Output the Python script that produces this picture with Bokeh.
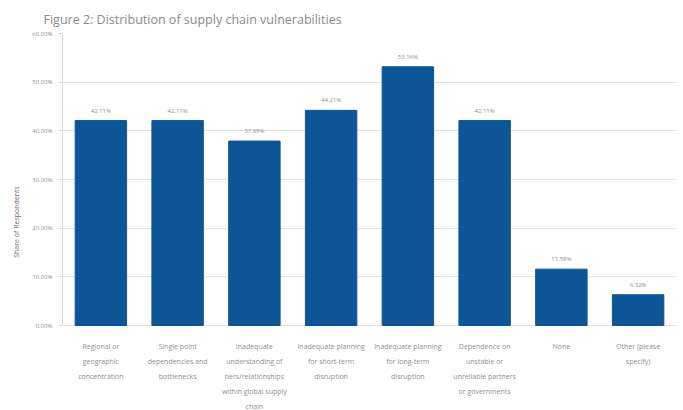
from bokeh.plotting import figure
from bokeh.models import ColumnDataSource, PrintfTickFormatter, FixedTicker, Title, LabelSet, Range1d
from bokeh.core.properties import value
from bokeh.embed import file_html
from bokeh.resources import INLINE

categories = [
    "Regional or geographic concentration",
    "Single point dependencies and bottlenecks",
    "Inadequate understanding of tiers/relationships within global supply chain",
    "Inadequate planning for short-term disruption",
    "Inadequate planning for long-term disruption",
    "Dependence on unstable or unreliable partners or governments",
    "None",
    "Other (please specify)",
]
wrapped_labels = [
    "Regional or\ngeographic\nconcentration",
    "Single point\ndependencies and\nbottlenecks",
    "Inadequate\nunderstanding of\ntiers/relationships\nwithin global supply\nchain",
    "Inadequate planning\nfor short-term\ndisruption",
    "Inadequate planning\nfor long-term\ndisruption",
    "Dependence on\nunstable or\nunreliable partners\nor governments",
    "None",
    "Other (please\nspecify)",
]
values = [42.11, 42.11, 37.89, 44.21, 53.16, 42.11, 11.58, 6.32]
y_ticks = [0, 10, 20, 30, 40, 50, 60]

# layout (pixels)
W, H = 676, 410
TOP, ZERO_Y = 33, 325
FIRST_LINE, LINE_STEP = 21, 15
y_max = 60
px_per_unit = (ZERO_Y - TOP) / y_max
y_min = -(H - ZERO_Y) / px_per_unit

src = ColumnDataSource(dict(cat=categories, val=values,
                            lbl=["%.2f%%" % v for v in values]))

# one entry per wrapped line of each category label
line_cat, line_txt, line_off = [], [], []
for c, w in zip(categories, wrapped_labels):
    for j, t in enumerate(w.split("\n")):
        line_cat.append(c)
        line_txt.append(t)
        line_off.append(-(FIRST_LINE + j * LINE_STEP))
line_src = ColumnDataSource(dict(cat=line_cat, txt=line_txt, off=line_off,
                                 zero=[0] * len(line_cat)))

p = figure(x_range=categories, y_range=Range1d(y_min, y_max), width=W, height=H,
           output_backend="svg", toolbar_location=None,
           min_border_left=62, min_border_right=0, min_border_top=TOP, min_border_bottom=0)
p.add_layout(Title(text="Figure 2: Distribution of supply chain vulnerabilities",
                   text_font="Open Sans", text_font_size="12.5px", text_font_style="normal",
                   text_color="#8a8a8a", align="left", offset=-19, standoff=12), "above")

p.vbar(x="cat", top="val", width=0.67, source=src, color="#0d5597")
p.add_layout(LabelSet(x="cat", y="val", text="lbl", source=src, text_align="center",
                      y_offset=6, text_font=value("Open Sans"), text_font_size="6px",
                      text_color="#909090"))
p.add_layout(LabelSet(x="cat", y="zero", text="txt", source=line_src, text_align="center",
                      text_baseline="middle", y_offset="off", text_font=value("Open Sans"),
                      text_font_size="7px", text_color="#909090"))

p.outline_line_color = None
p.xgrid.grid_line_color = None
p.ygrid.grid_line_color = "#e2e2e2"
p.yaxis.ticker = FixedTicker(ticks=y_ticks)
p.yaxis.bounds = (0, y_max)
p.yaxis.formatter = PrintfTickFormatter(format="%.2f%%")
p.yaxis.axis_label = "Share of Respondents"
p.yaxis.axis_label_text_font = "Open Sans"
p.yaxis.axis_label_text_font_size = "7px"
p.yaxis.axis_label_text_font_style = "normal"
p.yaxis.axis_label_text_color = "#707070"
p.yaxis.axis_label_standoff = 8
p.yaxis.major_label_text_font = "Open Sans"
p.yaxis.major_label_text_font_size = "6px"
p.yaxis.major_label_text_color = "#909090"
p.yaxis.axis_line_color = "#d8d8d8"
p.yaxis.major_tick_line_color = "#d8d8d8"
p.yaxis.major_tick_out = 4
p.yaxis.major_tick_in = 0
p.yaxis.minor_tick_line_color = None
p.yaxis.major_label_standoff = 6

p.xaxis.visible = False
p.x_range.range_padding = 0

open("out.html", "w").write(file_html(p, INLINE))
